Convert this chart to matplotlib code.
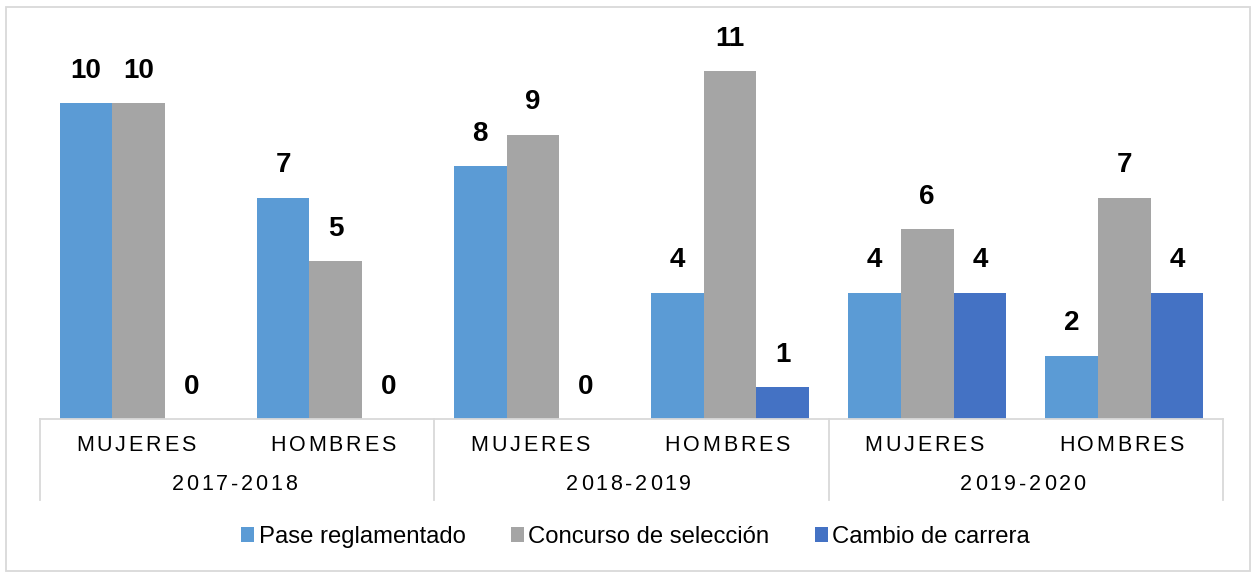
import matplotlib
matplotlib.use("Agg")
from matplotlib import pyplot as plt
from matplotlib.patches import Rectangle
from matplotlib.font_manager import FontProperties
import numpy as np

# categories and counts
years = ["2017-2018", "2018-2019", "2019-2020"]
sexes = ["MUJERES", "HOMBRES"]
series_names = ["Pase reglamentado", "Concurso de selección", "Cambio de carrera"]
pase = [10, 7, 8, 4, 4, 2]
concurso = [10, 5, 9, 11, 6, 7]
cambio = [0, 0, 0, 1, 4, 4]
colours = ["#5B9BD5", "#A5A5A5", "#4472C4"]

plt.rcParams['font.family'] = ['Liberation Sans', 'DejaVu Sans']

fig = plt.figure(figsize=(12.57, 5.78), dpi=100)
ax = fig.add_axes([40 / 1257, 159 / 578, 1183 / 1257, 379.2 / 578])
renderer = fig.canvas.get_renderer()


def spaced_text(ax, xd, ya, s, size, spacing, shift=-3):
    # letter-spaced label: place each glyph by itself, centred on (xd, ya)
    prop = FontProperties(family=['Liberation Sans', 'DejaVu Sans'], size=size)
    pts2px = fig.dpi / 72.0
    full = renderer.get_text_width_height_descent(s, prop, ismath=False)[0]
    total = full + (len(s) - 1) * spacing * pts2px
    cx, cy = ax.get_xaxis_transform().transform((xd, ya))
    x0 = cx - total / 2 + shift
    for i, ch in enumerate(s):
        pre = renderer.get_text_width_height_descent(s[:i], prop, ismath=False)[0] if i else 0
        px = x0 + pre + i * spacing * pts2px
        fx, fy = fig.transFigure.inverted().transform((px, cy))
        fig.text(fx, fy, ch, fontproperties=prop, ha="left", va="center", color="#000000")


x = np.arange(len(pase))
w = 0.267
for i, (vals, c) in enumerate(zip([pase, concurso, cambio], colours)):
    bars = ax.bar(x + (i - 1) * w, vals, w, color=c, label=series_names[i], zorder=2)
    for b, v in zip(bars, vals):
        ax.annotate(str(v), (b.get_x() + b.get_width() / 2, v),
                    xytext=(0, 14), textcoords="offset points",
                    ha="center", va="bottom", fontsize=20, fontweight="bold")

ax.set_xlim(-0.5, len(pase) - 0.5)
ax.set_ylim(0, 12)
ax.axis("off")

# two-level category axis
line_c = "#D9D9D9"
tr = ax.get_xaxis_transform()
ax.plot([-0.5, len(pase) - 0.5], [0, 0], color=line_c, lw=1.3, transform=tr, clip_on=False)
for xv in [-0.5, 1.5, 3.5, 5.5]:
    ax.plot([xv, xv], [0, -0.2136], color=line_c, lw=1.3, transform=tr, clip_on=False)

for k in range(len(pase)):
    spaced_text(ax, k, -0.0686, sexes[k % 2], 15.5, 2.0)
for j, yr in enumerate(years):
    spaced_text(ax, 2 * j + 0.5, -0.174, yr, 15.5, 2.0)

# outer frame
fig.patches.append(Rectangle((6 / 1257, 7 / 578), 1244 / 1257, 564 / 578, transform=fig.transFigure,
                             fill=False, edgecolor=line_c, lw=1.3))

fig.legend(loc="center", bbox_to_anchor=(0.5056, 0.071), ncol=3, frameon=False,
           fontsize=17.2, handlelength=0.55, handleheight=0.55, handletextpad=0.18,
           columnspacing=1.9)

fig.savefig("out.png", dpi=100)
